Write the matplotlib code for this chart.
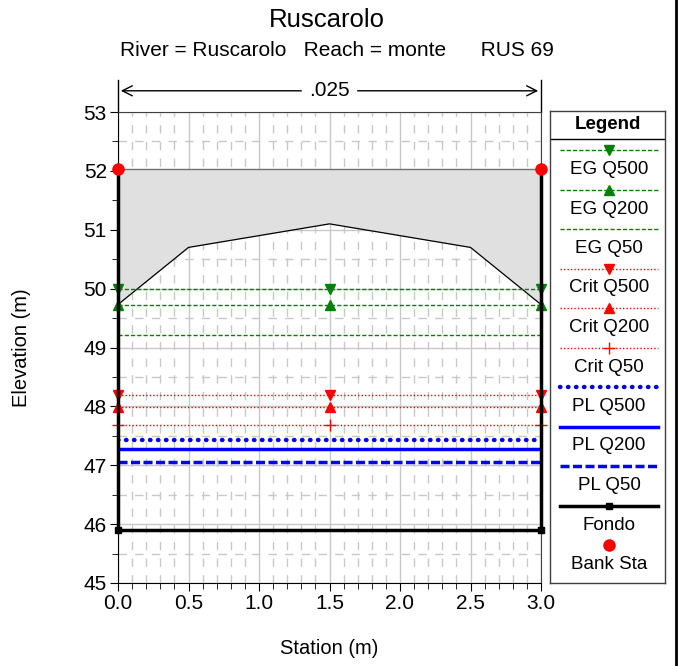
import matplotlib
matplotlib.use("Agg")
import matplotlib.pyplot as plt
from matplotlib.ticker import MultipleLocator
from matplotlib.lines import Line2D

plt.rcParams['font.family'] = ['Liberation Sans', 'DejaVu Sans']

# ---- data ----
title = "Ruscarolo"
subtitle = "River = Ruscarolo   Reach = monte      RUS 69"
n_value = ".025"

fondo_x = [0.0, 0.0, 3.0, 3.0]
fondo_y = [52.04, 45.90, 45.90, 52.04]

deck_x = [0.0, 0.5, 1.5, 2.5, 3.0]
deck_low = [49.73, 50.70, 51.10, 50.70, 49.73]
deck_high = 52.04

bank_x = [0.0, 3.0]
bank_y = [52.04, 52.04]

ws_x = [0.0, 1.5, 3.0]
ws_names = ["EG Q500", "EG Q200", "EG Q50", "Crit Q500", "Crit Q200", "Crit Q50",
            "PL Q500", "PL Q200", "PL Q50"]
ws_values = [50.00, 49.72, 49.22, 48.19, 47.99, 47.68, 47.43, 47.28, 47.05]

xlim = (0.0, 3.0)
ylim = (45.0, 53.0)

# ---- styles ----
GREEN = "#008000"
RED = "#ff0000"
BLUE = "#0000ff"
styles = {
    "EG Q500": dict(color=GREEN, ls=(0, (3, 1.5)), lw=1.0, marker="v", ms=7),
    "EG Q200": dict(color=GREEN, ls=(0, (3, 1.5)), lw=1.0, marker="^", ms=7),
    "EG Q50": dict(color=GREEN, ls=(0, (3, 1.5)), lw=1.0, marker=None, ms=0),
    "Crit Q500": dict(color=RED, ls=(0, (1, 1.5)), lw=1.0, marker="v", ms=7),
    "Crit Q200": dict(color=RED, ls=(0, (1, 1.5)), lw=1.0, marker="^", ms=7),
    "Crit Q50": dict(color=RED, ls=(0, (1, 1.5)), lw=1.0, marker="+", ms=8),
    "PL Q500": dict(color=BLUE, ls=(0, (0.1, 1.7)), lw=3.2, marker=None, ms=0, dash_capstyle="round"),
    "PL Q200": dict(color=BLUE, ls="-", lw=2.5, marker=None, ms=0),
    "PL Q50": dict(color=BLUE, ls=(0, (2.6, 1.0)), lw=2.5, marker=None, ms=0),
}

fig = plt.figure(figsize=(6.79, 6.66), dpi=100)
ax = fig.add_axes([118/679, (666-583)/666, (541-118)/679, (583-112)/666])
ax.set_zorder(3)

# grid
ax.set_xlim(*xlim)
ax.set_ylim(*ylim)
ax.xaxis.set_major_locator(MultipleLocator(0.5))
ax.xaxis.set_minor_locator(MultipleLocator(0.1))
ax.yaxis.set_major_locator(MultipleLocator(1))
ax.yaxis.set_minor_locator(MultipleLocator(0.5))
ax.grid(which="major", color="#c8c8c8", lw=1.0, ls="-", zorder=0)
ax.grid(which="minor", color="#c8c8c8", lw=1.0, ls=(0, (6, 6)), zorder=0)
ax.set_axisbelow(True)

# deck
ax.fill_between(deck_x, deck_low, [deck_high]*len(deck_x), color="#e0e0e0", lw=0, zorder=1)
ax.plot(deck_x, deck_low, color="black", lw=0.9, zorder=2)
ax.plot([deck_x[0], deck_x[-1]], [deck_high, deck_high], color="#707070", lw=1.0, zorder=2)

# water surfaces
for name, val in zip(ws_names, ws_values):
    st = dict(styles[name])
    mk = st.pop("marker"); ms = st.pop("ms")
    ax.plot([xlim[0], xlim[1]], [val, val], zorder=3, **st)
    if mk:
        ax.plot(ws_x, [val]*len(ws_x), ls="none", marker=mk, ms=ms, color=st["color"],
                mew=1.0, zorder=4, clip_on=False)

# fondo
ax.plot(fondo_x, fondo_y, color="black", lw=2.5, marker="s", ms=5, zorder=5, clip_on=False)
# bank stations
ax.plot(bank_x, bank_y, ls="none", marker="o", ms=8, color=RED, zorder=6, clip_on=False)

# spines & ticks
for s in ["top", "right"]:
    ax.spines[s].set_color("#404040")
ax.spines["left"].set_color("black")
ax.spines["bottom"].set_color("black")
ax.tick_params(which="major", direction="out", length=6, labelsize=15, pad=2)
ax.tick_params(which="minor", direction="out", length=4)
ax.set_xticklabels([f"{v:.1f}" for v in ax.get_xticks()])
ax.set_xlabel("Station (m)", fontsize=14.5)
ax.set_ylabel("Elevation (m)", fontsize=14.5)
ax.xaxis.set_label_coords(0.5, -0.118)
ax.yaxis.set_label_coords(-0.205, 0.5)

# titles
fig.text(327/679, 1 - 20/666, title, ha="center", va="center", fontsize=18.5)
fig.text(337/679, 1 - 50/666, subtitle, ha="center", va="center", fontsize=15)

# n-value bracket
ax.plot([0, 0], [53.0, 53.55], color="black", lw=1, clip_on=False)
ax.plot([3, 3], [53.0, 53.55], color="black", lw=1, clip_on=False)
ax.annotate("", xy=(0, 53.36), xytext=(1.32, 53.36), annotation_clip=False,
            arrowprops=dict(arrowstyle="->", lw=1, color="black", mutation_scale=18))
ax.annotate("", xy=(3, 53.36), xytext=(1.68, 53.36), annotation_clip=False,
            arrowprops=dict(arrowstyle="->", lw=1, color="black", mutation_scale=18))
ax.text(1.5, 53.36, n_value, ha="center", va="center", fontsize=15)

# legend box (pixel-like coords)
lg_top, lg_bot = 111, 583
lg = fig.add_axes([550/679, (666-lg_bot)/666, 115/679, (lg_bot-lg_top)/666])
lg.set_zorder(1)
lg.set_xlim(0, 115)
lg.set_ylim(lg_bot-lg_top, 0)
lg.set_xticks([]); lg.set_yticks([])
for s in lg.spines.values():
    s.set_color("#404040"); s.set_linewidth(1.0)
lg.text(57.5, 18, "Legend", ha="center", va="baseline", fontsize=13.5, fontweight="bold")
lg.plot([0, 115], [28, 28], color="black", lw=1)
entry_names = ws_names + ["Fondo", "Bank Sta"]
y0 = 39
step = 39.5
for i, name in enumerate(entry_names):
    ly = y0 + i * step
    ty = ly + 24
    if name in styles:
        st = dict(styles[name])
        mk = st.pop("marker"); ms = st.pop("ms")
        lg.plot([10, 108], [ly, ly], **st)
        if mk:
            lg.plot([59], [ly], ls="none", marker=mk, ms=ms, color=st["color"])
    elif name == "Fondo":
        lg.plot([10, 108], [ly, ly], color="black", lw=2.5)
        lg.plot([59], [ly], ls="none", marker="s", ms=5, color="black")
    else:
        lg.plot([59], [ly], ls="none", marker="o", ms=8, color=RED)
    lg.text(59, ty, name, ha="center", va="baseline", fontsize=13.5)

# right border line
fig.add_artist(Line2D([676/679, 676/679], [0, 1], color="black", lw=2))

fig.savefig("out.png", dpi=100)
